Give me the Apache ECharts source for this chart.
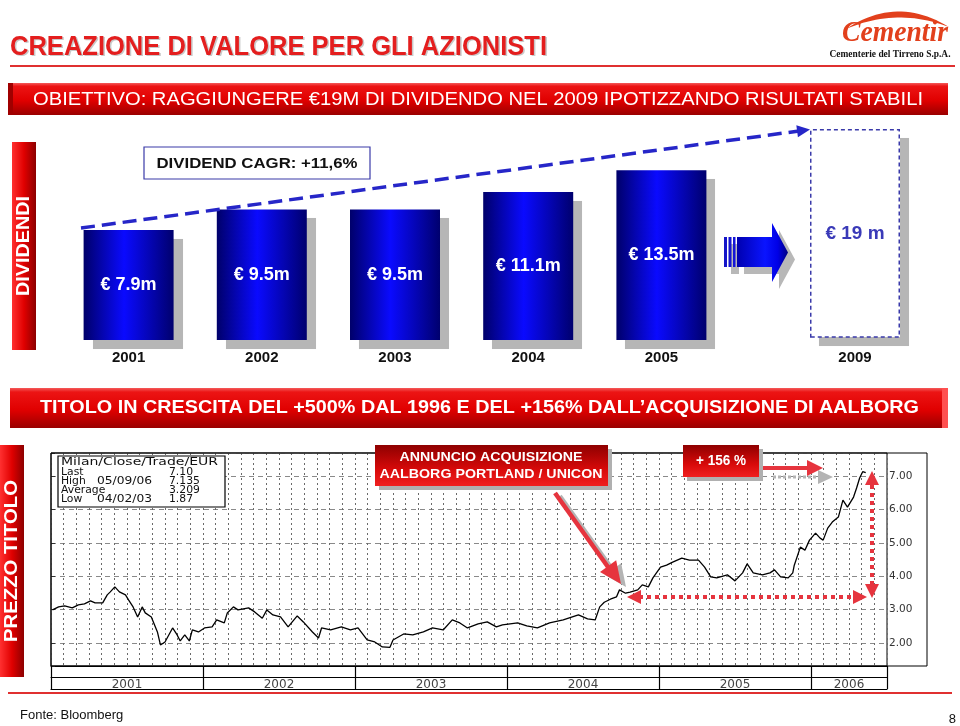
<!DOCTYPE html>
<html><head><meta charset="utf-8">
<script src="https://cdn.jsdelivr.net/npm/echarts/dist/echarts.min.js"></script>
<style>html,body{margin:0;padding:0;background:#fff}#c{width:960px;height:726px}</style>
</head><body><div id="c"></div>
<script>
// ---------- DATA ----------
const divYears = ['2001', '2002', '2003', '2004', '2005'];
const divValues = [7.9, 9.5, 9.5, 11.1, 13.5];
const targetYears = ['2009'];
const targetValues = [19];

const priceYears = ['2001', '2002', '2003', '2004', '2005', '2006'];
const priceTicks = [2, 3, 4, 5, 6, 7];
const priceDates = [
  2001.01,2001.05,2001.09,2001.14,2001.18,2001.22,2001.26,2001.29,2001.34,2001.37,
  2001.39,2001.42,2001.45,2001.49,2001.51,2001.54,2001.57,2001.60,2001.62,2001.66,
  2001.70,2001.72,2001.75,2001.80,2001.83,2001.85,2001.88,2001.91,2001.93,2001.97,
  2002.01,2002.06,2002.09,2002.14,2002.16,2002.20,2002.23,2002.30,2002.34,2002.39,
  2002.42,2002.46,2002.51,2002.56,2002.62,2002.66,2002.72,2002.76,2002.78,2002.84,
  2002.91,2002.97,2003.02,2003.08,2003.13,2003.18,2003.23,2003.25,2003.32,2003.38,
  2003.45,2003.51,2003.58,2003.64,2003.69,2003.74,2003.81,2003.87,2003.93,2003.97,
  2004.07,2004.13,2004.20,2004.28,2004.37,2004.47,2004.53,2004.58,2004.61,2004.64,
  2004.68,2004.72,2004.74,2004.78,2004.81,2004.86,2004.89,2004.93,2004.96,2005.01,
  2005.05,2005.09,2005.15,2005.20,2005.26,2005.30,2005.34,2005.38,2005.45,2005.50,
  2005.55,2005.58,2005.62,2005.68,2005.73,2005.76,2005.80,2005.85,2005.88,2005.89,
  2005.93,2005.96,2005.99,2006.03,2006.06,2006.08,2006.11,2006.14,2006.18,2006.21,
  2006.24,2006.28,2006.30,2006.32,2006.34,2006.36
];
const prices = [
  2.99,3.08,3.11,3.05,3.14,3.17,3.26,3.20,3.20,3.44,
  3.53,3.68,3.53,3.44,3.29,3.08,2.78,3.08,2.90,2.78,
  2.33,1.94,2.03,2.45,2.24,2.06,2.24,2.06,2.39,2.33,
  2.45,2.48,2.69,2.60,2.90,3.08,2.99,3.05,2.93,2.74,
  2.99,2.84,2.78,2.48,2.81,2.63,2.33,2.15,2.45,2.39,
  2.48,2.39,2.45,2.09,2.03,1.88,1.87,2.09,2.27,2.24,
  2.33,2.45,2.39,2.69,2.60,2.45,2.57,2.63,2.48,2.54,
  2.60,2.51,2.45,2.60,2.69,2.84,2.72,2.69,3.08,3.22,
  3.31,3.38,3.59,3.49,3.52,3.59,3.74,3.68,3.95,4.27,
  4.33,4.42,4.54,4.48,4.48,4.27,3.98,3.95,4.04,3.86,
  4.10,4.37,4.10,4.04,4.10,4.19,3.98,3.95,4.10,4.33,
  4.87,4.78,5.08,5.29,5.14,5.08,5.44,5.62,5.77,6.28,
  6.07,6.37,6.64,6.94,7.13,7.10
];
const statsRows = [
  ['Last', '', '7.10'],
  ['High', '05/09/06', '7.135'],
  ['Average', '', '3.209'],
  ['Low', '04/02/03', '1.87']
];

// ---------- HELPERS ----------
const SANS = '"Liberation Sans", Arial, sans-serif';
const MONO = '"DejaVu Sans", sans-serif';
const mc = document.createElement('canvas').getContext('2d');
function fit(text, font, w) { mc.font = font; return w / mc.measureText(text).width; }
function T(text, x, y, font, fill, o) {
  o = o || {};
  const el = { type: 'text', x: x, y: y, z: 120,
    style: { text: text, font: font, fill: fill,
      align: o.align || 'left', verticalAlign: 'middle',
      textAlign: o.align || 'left', textVerticalAlign: 'middle' } };
  if (o.w) el.scaleX = fit(text, font, o.w);
  if (o.sx) el.scaleX = o.sx;
  if (o.rot) el.rotation = o.rot;
  return el;
}
function R(x, y, w, h, fill, o) {
  o = o || {};
  return { type: 'rect', z: o.z || 110, shape: { x: x, y: y, width: w, height: h },
    style: { fill: fill, stroke: o.stroke || null, lineWidth: o.lw || 0, lineDash: o.dash || null } };
}
function P(points, fill, z) { return { type: 'polygon', z: z || 115, shape: { points: points }, style: { fill: fill } }; }
function L(x1, y1, x2, y2, stroke, lw, dash, z) {
  return { type: 'line', z: z || 115, shape: { x1: x1, y1: y1, x2: x2, y2: y2 },
    style: { stroke: stroke, lineWidth: lw, lineDash: dash || null, lineCap: 'butt' } };
}
function head(tx, ty, dx, dy, len, hw) {
  const n = Math.hypot(dx, dy), ux = dx / n, uy = dy / n, px = -uy, py = ux;
  const bx = tx - ux * len, by = ty - uy * len;
  return [[tx, ty], [bx + px * hw, by + py * hw], [bx - px * hw, by - py * hw]];
}
const LG = echarts.graphic.LinearGradient;
const redV = () => new LG(0, 0, 0, 1, [
  { offset: 0, color: '#f45a5a' }, { offset: 0.1, color: '#ec1414' },
  { offset: 0.55, color: '#e00000' }, { offset: 1, color: '#9a0000' }]);
const redH = () => new LG(0, 0, 1, 0, [
  { offset: 0, color: '#ff3030' }, { offset: 0.5, color: '#e00000' }, { offset: 1, color: '#8c0000' }]);
const boxRed = () => new LG(0, 0, 0, 1, [
  { offset: 0, color: '#8e0000' }, { offset: 0.6, color: '#d80a0a' }, { offset: 1, color: '#f02020' }]);
const blueBar = new LG(0, 0, 1, 0, [
  { offset: 0, color: '#00006a' }, { offset: 0.45, color: '#0a0aff' }, { offset: 1, color: '#00006e' }]);

// logo arc crescent
function quad(p0, c, p2, n) {
  const pts = [];
  for (let i = 0; i <= n; i++) { const t = i / n, a = (1 - t) * (1 - t), b = 2 * t * (1 - t), d = t * t;
    pts.push([a * p0[0] + b * c[0] + d * p2[0], a * p0[1] + b * c[1] + d * p2[1]]); }
  return pts;
}
const arcPts = quad([846, 29], [897, -5], [949, 27], 24).concat(quad([949, 27], [897, 7], [846, 29], 24));

// ---------- GRAPHICS ----------
const ARROW = '#e6343e';
const g = [];
// title
const titleFont = 'bold 28px ' + SANS;
const titleTxt = 'CREAZIONE DI VALORE PER GLI AZIONISTI';
g.push(T(titleTxt, 11.5, 48.5, titleFont, '#c9c9c9', { w: 537 }));
g.push(T(titleTxt, 10, 47, titleFont, '#e41e1e', { w: 537 }));
g.push(R(10, 65, 945, 2, '#e03030'));
// logo
g.push(P(arcPts, '#e2401c', 120));
g.push(T('Cementir', 842, 33, 'italic bold 30px "Liberation Serif", serif', '#e2401c', { w: 106 }));
g.push(T('Cementerie del Tirreno S.p.A.', 890, 54, 'bold 10px "Liberation Serif", serif', '#111', { align: 'center', w: 121 }));
// banner 1
g.push(R(8, 83, 940, 32, redV()));
g.push(R(8, 83, 5, 32, '#a00000'));
g.push(T('OBIETTIVO: RAGGIUNGERE €19M DI DIVIDENDO NEL 2009 IPOTIZZANDO RISULTATI STABILI', 33, 100,
  '18px ' + SANS, '#fff', { w: 890 }));
// DIVIDENDI tab
g.push(R(12, 142, 24, 208, redH()));
g.push(T('DIVIDENDI', 24, 246, 'bold 18px ' + SANS, '#fff', { align: 'center', w: 100, rot: Math.PI / 2 }));
// CAGR box
g.push(R(144, 147, 226, 32, '#fff', { stroke: '#3a3aa8', lw: 1.2 }));
g.push(T('DIVIDEND CAGR: +11,6%', 257, 163.5, 'bold 15px ' + SANS, '#111', { align: 'center', w: 201 }));
// CAGR dashed trend line
g.push(L(81, 228, 799, 131, '#2626c8', 3.5, [14, 7], 118));
g.push(P(head(810, 129.5, 727, -98, 13, 6), '#2626c8', 118));
// big arrow between 2005 and 2009
const arrowPts = [[737, 237], [772, 237], [772, 223], [788, 252.5], [772, 282], [772, 267], [737, 267]];
g.push(P(arrowPts.map(p => [p[0] + 7, p[1] + 7]), '#b8b8b8', 111));
g.push(R(731, 244, 8, 30, '#b8b8b8', { z: 111 }));
const blueArrow = new LG(0, 0, 1, 0, [
  { offset: 0, color: '#0000b0' }, { offset: 0.55, color: '#0a14ff' }, { offset: 0.8, color: '#0000e6' }, { offset: 1, color: '#000080' }]);
g.push(P(arrowPts, blueArrow, 112));
g.push(R(724, 237, 3, 30, '#1414c8', { z: 112 }));
g.push(R(728.5, 237, 3, 30, '#1414d0', { z: 112 }));
g.push(R(733, 237, 2.5, 30, '#1414d8', { z: 112 }));
// banner 2
g.push(R(10, 388, 938, 40, redV()));
g.push(R(942, 388, 6, 40, '#ff5050'));
g.push(T('TITOLO IN CRESCITA DEL +500% DAL 1996 E DEL +156% DALL\u2019ACQUISIZIONE DI AALBORG', 40, 408,
  'bold 18px ' + SANS, '#fff', { w: 879 }));
// PREZZO TITOLO tab
g.push(R(0, 445, 24, 232, redH()));
g.push(T('PREZZO TITOLO', 12, 561, 'bold 19px ' + SANS, '#fff', { align: 'center', w: 162, rot: Math.PI / 2 }));
// price chart outer frame
g.push(R(51, 453, 876, 213, null, { stroke: '#000', lw: 1, z: 105 }));
// stats box
g.push(R(58, 456, 167, 51, '#fff', { stroke: '#000', lw: 1.2 }));
const statFont = '10px ' + MONO;
g.push(T('Milan/Close/Trade/EUR', 61, 462.5, statFont, '#111', { w: 157 }));
statsRows.forEach((r, i) => {
  const y = 472 + i * 9.3;
  g.push(T(r[0], 61, y, statFont, '#111', { sx: 1.08 }));
  if (r[1]) g.push(T(r[1], 97, y, statFont, '#111', { w: 55 }));
  g.push(T(r[2], 169, y, statFont, '#111', { sx: 1.08 }));
});
// ANNUNCIO box
g.push(R(379, 449, 233, 41, '#b0b0b0'));
g.push(R(375, 445, 233, 41, boxRed()));
g.push(T('ANNUNCIO ACQUISIZIONE', 491, 457, 'bold 13px ' + SANS, '#fff', { align: 'center', w: 183 }));
g.push(T('AALBORG PORTLAND / UNICON', 491, 474, 'bold 13px ' + SANS, '#fff', { align: 'center', w: 223 }));
// +156 box
g.push(R(687, 449, 76, 32, '#b0b0b0'));
g.push(R(683, 445, 76, 32, boxRed()));
g.push(T('+ 156 %', 721, 461, 'bold 14px ' + SANS, '#fff', { align: 'center', w: 50 }));
// arrow from ANNUNCIO box
g.push(L(560, 496, 613, 570, '#b4b4b4', 4, null, 113));
g.push(P(head(626, 587, 66, 91, 22, 10), '#b4b4b4', 113));
g.push(L(555, 493, 608, 567, ARROW, 4.5));
g.push(P(head(621, 584, 66, 91, 22, 10), ARROW));
// arrow from +156 box
g.push(L(773, 477, 820, 477, '#b4b4b4', 3, [3, 2], 113));
g.push(P(head(833, 477, 1, 0, 15, 7), '#b4b4b4', 113));
g.push(L(763, 468, 808, 468, ARROW, 4));
g.push(P(head(823, 468, 1, 0, 16, 8), ARROW));
// dotted double arrows
g.push(L(639, 597, 855, 597, ARROW, 4, [4, 4]));
g.push(P(head(627, 597, -1, 0, 14, 7), ARROW));
g.push(P(head(867, 597, 1, 0, 14, 7), ARROW));
g.push(L(872, 485, 872, 584, ARROW, 4, [4, 4]));
g.push(P(head(872, 471, 0, -1, 14, 7), ARROW));
g.push(P(head(872, 598, 0, 1, 14, 7), ARROW));
// footer
g.push(R(8, 692, 944, 2, '#e03030'));
g.push(T('Fonte: Bloomberg', 20, 715, '13px ' + SANS, '#111'));
g.push(T('8', 956, 719, '13px ' + SANS, '#111', { align: 'right' }));

// ---------- CHART ----------
const yearCenters = priceYears.map((y, i) => (i * 12 + Math.min((i + 1) * 12, 66)) / 2);
const chart = echarts.init(document.getElementById('c'), null, { renderer: 'canvas' });
const noAxis = { axisLine: { show: false }, axisTick: { show: false }, axisLabel: { show: false }, splitLine: { show: false } };
const yearLabel = { fontSize: 15, fontWeight: 'bold', color: '#111', fontFamily: SANS };
const barShadow = { shadowColor: '#b6b6b6', shadowOffsetX: 9, shadowOffsetY: 9, shadowBlur: 0.5 };
chart.setOption({
  animation: false,
  backgroundColor: '#fff',
  textStyle: { fontFamily: SANS },
  grid: [
    { left: 62, top: 130, width: 666, height: 210, outerBoundsMode: 'none', containLabel: false },
    { left: 810, top: 127, width: 90, height: 210, outerBoundsMode: 'none', containLabel: false },
    { left: 51, top: 453, width: 836, height: 213, show: true, borderColor: '#000', borderWidth: 1,
      backgroundColor: 'transparent', outerBoundsMode: 'none', containLabel: false }
  ],
  xAxis: [
    { gridIndex: 0, type: 'category', data: divYears, axisLine: { show: false }, axisTick: { show: false },
      axisLabel: Object.assign({ margin: 10, interval: 0 }, yearLabel), splitLine: { show: false } },
    { gridIndex: 1, type: 'category', data: targetYears, axisLine: { show: false }, axisTick: { show: false },
      axisLabel: Object.assign({ margin: 13, interval: 0 }, yearLabel), splitLine: { show: false } },
    { gridIndex: 2, type: 'value', min: 0, max: 66, interval: 1, position: 'bottom',
      axisLine: { show: true, onZero: false, lineStyle: { color: '#000', width: 1 } },
      axisTick: { show: false }, axisLabel: { show: false },
      splitLine: { show: true, lineStyle: { color: '#6a6a6a', width: 1, type: [2, 3] } } },
    { gridIndex: 2, type: 'value', min: 0, max: 66, interval: 12, position: 'bottom',
      axisLine: { show: false, onZero: false }, axisTick: { show: true, length: 23, lineStyle: { color: '#000', width: 1.2 } },
      axisLabel: { show: false }, splitLine: { show: false } },
    { gridIndex: 2, type: 'value', min: 0, max: 66, interval: 3, position: 'bottom', offset: 11,
      axisLine: { show: true, onZero: false, lineStyle: { color: '#000', width: 1 } }, axisTick: { show: false },
      axisLabel: { show: true, margin: 2, fontSize: 12, color: '#444', fontFamily: MONO,
        formatter: v => { const i = yearCenters.findIndex(c => Math.abs(c - v) < 0.01); return i >= 0 ? priceYears[i] : ''; } },
      splitLine: { show: false } },
    { gridIndex: 2, type: 'value', min: 0, max: 66, interval: 12, position: 'bottom', offset: 23,
      axisLine: { show: true, onZero: false, lineStyle: { color: '#000', width: 1.2 } },
      axisTick: { show: false }, axisLabel: { show: false }, splitLine: { show: false } }
  ],
  yAxis: [
    Object.assign({ gridIndex: 0, type: 'log', min: 2.95, max: 19.36 }, noAxis),
    Object.assign({ gridIndex: 1, type: 'log', min: 2.95, max: 19.36 }, noAxis),
    { gridIndex: 2, type: 'value', position: 'right', min: 1.31, max: 7.69, minInterval: 1, maxInterval: 1,
      axisLine: { show: false }, axisTick: { show: true, length: 4, lineStyle: { color: '#333' } },
      axisLabel: { margin: 2, fontSize: 10.5, color: '#333', fontFamily: MONO,
        formatter: v => priceTicks.some(t => Math.abs(t - v) < 1e-6) ? v.toFixed(2) : '' },
      splitLine: { show: true, lineStyle: { color: '#8a8a8a', width: 1, type: [5, 4] } } }
  ],
  series: [
    { type: 'bar', xAxisIndex: 0, yAxisIndex: 0, data: divValues, barWidth: 90, clip: true,
      itemStyle: Object.assign({ color: blueBar }, barShadow),
      label: { show: true, position: 'inside', color: '#fff', fontSize: 18, fontWeight: 'bold', fontFamily: SANS,
        formatter: p => '€ ' + p.value.toFixed(1) + 'm' } },
    // 2009 target: white body with shadow
    { type: 'bar', xAxisIndex: 1, yAxisIndex: 1, data: targetValues, barWidth: 90, clip: true,
      itemStyle: Object.assign({ color: '#fff' }, barShadow) },
    // 2009 target: dashed outline + label
    { type: 'bar', xAxisIndex: 1, yAxisIndex: 1, data: targetValues, barWidth: 90, barGap: '-100%', clip: true,
      itemStyle: { color: 'rgba(0,0,0,0)', borderColor: '#3a3aaa', borderWidth: 1.5, borderType: [4, 3] },
      label: { show: true, position: 'inside', color: '#3a3ab8', fontSize: 19, fontWeight: 'bold', fontFamily: SANS,
        formatter: p => '€ ' + p.value + ' m' } },
    { type: 'line', xAxisIndex: 2, yAxisIndex: 2, symbol: 'none', showSymbol: false, z: 5,
      data: priceDates.map((d, i) => [(d - 2001) * 12, prices[i]]),
      lineStyle: { color: '#000', width: 1.3 } }
  ],
  graphic: { elements: g }
});
</script>
</body></html>
